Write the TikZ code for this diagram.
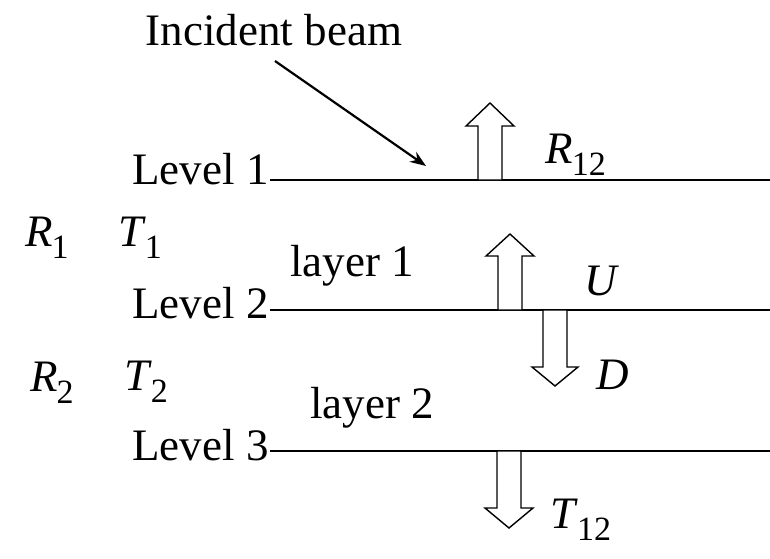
\documentclass[tikz,border=0pt]{standalone}
\usepackage{fontspec}
\setmainfont{Liberation Serif}
\usepackage{tikz}
\usetikzlibrary{arrows.meta, positioning, calc}

\newcommand{\labsub}[2]{\textit{#1}\kern-0.5pt\raisebox{-0.6ex}{\fontsize{17}{17}\selectfont #2}}

\begin{document}
\begin{tikzpicture}[
    x=0.5pt, y=-0.5pt,
    every node/.style={font=\fontsize{22.5}{26}\selectfont, inner sep=0pt},
    level/.style={line width=1.3pt},
    hollow/.style={draw, line width=0.7pt, fill=white},
    beam/.style={line width=1.1pt, -{Stealth[length=8pt, width=6pt]}}
]
\useasboundingbox (0,0) rectangle (770,558);

% Incident beam
\node (inc) at (274,30) {Incident beam};
\coordinate (incA) at (275,61);
\coordinate (incB) at (426,166);
\draw[beam] (incA) -- (incB);

% Level 1
\coordinate (l1a) at (270,180);
\coordinate (l1b) at (770,180);
\node[anchor=base east] (lev1) at (269,184) {Level 1};
\draw[level] (l1a) -- (l1b);
\draw[hollow] (478,180) -- (478,126) -- (466,126) -- (490,103) -- (514,126) -- (502,126) -- (502,180) -- cycle;
\node[anchor=west] (r12) at (545,155) {\labsub{R}{12}};

% layer 1
\node (r1) at (47,238) {\labsub{R}{1}};
\node (t1) at (140,238) {\labsub{T}{1}};
\node (lay1) at (352,266) {layer 1};

% Level 2
\coordinate (l2a) at (270,310);
\coordinate (l2b) at (770,310);
\node[anchor=base east] (lev2) at (269,318) {Level 2};
\draw[level] (l2a) -- (l2b);
\draw[hollow] (498,310) -- (498,256) -- (486,256) -- (510,234) -- (534,256) -- (522,256) -- (522,310) -- cycle;
\draw[hollow] (543,310) -- (543,367) -- (532,367) -- (555,386) -- (578,367) -- (567,367) -- (567,310) -- cycle;
\node[anchor=west] (u) at (584,281) {\textit{U}};
\node[anchor=west] (d) at (596,375) {\textit{D}};

% layer 2
\node (r2) at (52,383) {\labsub{R}{2}};
\node (t2) at (146,382) {\labsub{T}{2}};
\node (lay2) at (372,408) {layer 2};

% Level 3
\coordinate (l3a) at (270,451);
\coordinate (l3b) at (770,451);
\node[anchor=base east] (lev3) at (269,460) {Level 3};
\draw[level] (l3a) -- (l3b);
\draw[hollow] (497,451) -- (497,508) -- (485,508) -- (509,528) -- (533,508) -- (521,508) -- (521,451) -- cycle;
\node[anchor=west] (t12) at (550,520) {\labsub{T}{12}};

\end{tikzpicture}
\end{document}
